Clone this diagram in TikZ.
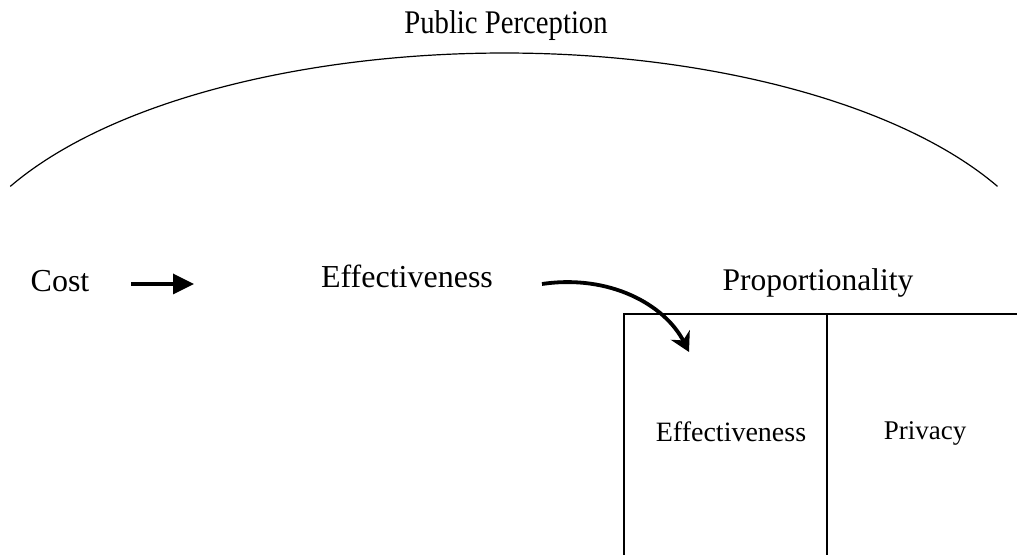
\documentclass[tikz,border=0pt]{standalone}
\usepackage{fontspec}
\setmainfont{Liberation Serif}
\usepackage{graphicx}
\usetikzlibrary{arrows.meta}
\tikzset{
  lbl/.style={anchor=base, inner sep=0pt, outer sep=0pt},
  thin line/.style={line width=1.2pt},
  boxline/.style={line width=1.4pt},
  bigarrow/.style={line width=3.5pt, -{Triangle[length=21pt,width=20pt]}},
  curvearrow/.style={line width=3.8pt, -{Stealth[length=19pt,width=21pt,inset=6pt]}}
}
\begin{document}
\begin{tikzpicture}[x=1pt,y=1pt]
\useasboundingbox (0,0) rectangle (1017,554);
% arc
\draw[thin line] (10.3,367.6) arc[start angle=152.6, end angle=27.4, x radius=556pt, y radius=247pt];
\node[lbl] (pp) at (506,520) {\fontsize{33}{38}\selectfont\scalebox{0.87}[1]{Public Perception}};
% labels
\node[lbl] (cost) at (60,262.5) {\fontsize{32}{36}\selectfont Cost};
\node[lbl] (eff) at (407,266) {\fontsize{32}{36}\selectfont Effectiveness};
\node[lbl] (prop) at (818,263) {\fontsize{31.5}{36}\selectfont Proportionality};
% box
\begin{scope}
\clip (0,0) rectangle (1017,554);
\draw[boxline] (624,-5) -- (624,240) -- (1025,240);
\draw[boxline] (827,240) -- (827,-5);
\end{scope}
\node[lbl] (effbox) at (731,112.5) {\fontsize{28}{32}\selectfont Effectiveness};
\node[lbl] (priv) at (925,114) {\fontsize{27}{31}\selectfont Privacy};
% arrows
\coordinate (a1s) at (131,270);
\coordinate (a1e) at (194,270);
\draw[bigarrow] (a1s) -- (a1e);
\coordinate (a2s) at (542,270);
\coordinate (a2e) at (689,202);
\draw[curvearrow] (a2s) .. controls (610,280) and (665,249) .. (a2e);
\end{tikzpicture}
\end{document}
